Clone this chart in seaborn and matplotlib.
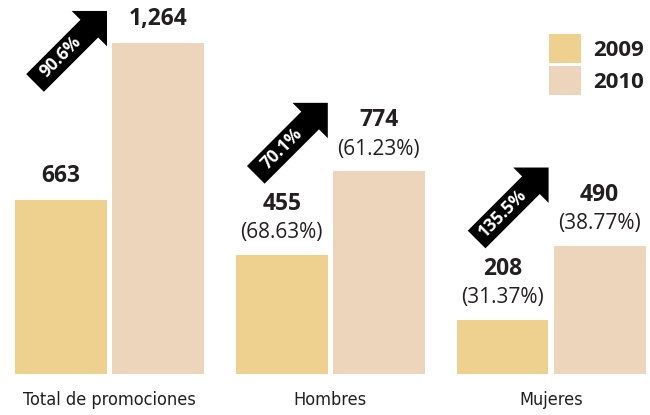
import matplotlib
matplotlib.use("Agg")
import matplotlib.pyplot as plt
import seaborn as sns
import pandas as pd
from matplotlib import font_manager

# datos
categorias = ["Total de promociones", "Hombres", "Mujeres"]
anios = ["2009", "2010"]
valores_2009 = [663, 455, 208]
valores_2010 = [1264, 774, 490]
pct_2009 = [None, "(68.63%)", "(31.37%)"]
pct_2010 = [None, "(61.23%)", "(38.77%)"]
crecimiento = ["90.6%", "70.1%", "135.5%"]

colores = ["#efd18f", "#ecd5bb"]
negro = "#231f20"

df = pd.DataFrame({
    "categoria": categorias * 2,
    "anio": [anios[0]] * 3 + [anios[1]] * 3,
    "valor": valores_2009 + valores_2010,
})

sns.set_theme(style="white")
instaladas = {f.name for f in font_manager.fontManager.ttflist}
fuente_num = "Open Sans" if "Open Sans" in instaladas else "DejaVu Sans"

# fuente estrecha para las categorias, si hay alguna
estrechas = [f for f in font_manager.fontManager.ttflist
             if f.style == "normal" and f.weight in (400, "normal", "regular")
             and ("Narrow" in f.name or "Condensed" in f.name
                  or str(f.stretch) in ("condensed", "semi-condensed", "extra-condensed"))]
if estrechas:
    fuente_cat = estrechas[0].name
    estiramiento = estrechas[0].stretch
    tam_cat = 13
else:
    fuente_cat = "Roboto" if "Roboto" in instaladas else "Liberation Sans"
    estiramiento = "normal"
    tam_cat = 12.5

plt.rcParams["font.family"] = [fuente_num, "DejaVu Sans"]
plt.rcParams["text.color"] = negro

fig = plt.figure(figsize=(6.5, 4.15), dpi=100)
ax = fig.add_axes([0, 41 / 415, 1, 374 / 415])

sns.barplot(data=df, x="categoria", y="valor", hue="anio", palette=colores,
            width=0.88, gap=0.055, saturation=1, edgecolor="none", ax=ax)

ax.set_xlim(-0.496, 2.448)
ax.set_ylim(0, 1428)
ax.set_xlabel("")
ax.set_ylabel("")
ax.set_yticks([])
for s in ax.spines.values():
    s.set_visible(False)
ax.tick_params(axis="x", length=0, pad=12)
for t in ax.get_xticklabels():
    t.set_fontfamily(fuente_cat)
    t.set_fontstretch(estiramiento)
    t.set_fontsize(tam_cat)
    t.set_color(negro)

# etiquetas sobre las barras
tops = {}
for j, (cont, pcts) in enumerate(zip(ax.containers, [pct_2009, pct_2010])):
    for i, bar in enumerate(cont):
        xc = bar.get_x() + bar.get_width() / 2
        h = bar.get_height()
        if pcts[i] is None:
            off = 24
        else:
            off = 51
            ax.annotate(pcts[i], xy=(xc, h), xytext=(0, 22), textcoords="offset pixels",
                        ha="center", va="center", fontsize=15, color=negro)
        ax.annotate(f"{int(h):,}", xy=(xc, h), xytext=(0, off), textcoords="offset pixels",
                    ha="center", va="center", fontsize=16.5, fontweight="bold", color=negro)
        tops[(j, i)] = ax.transData.transform((xc, h))[1] + off + 8

# flechas de crecimiento
for i, txt in enumerate(crecimiento):
    tip_x = ax.transData.transform((i, 0))[0] - 2.5
    tip_y = max(tops[(1, i)], tops[(0, i)] + 93)
    ax.annotate("", xy=(tip_x, tip_y), xycoords="figure pixels",
                xytext=(tip_x - 72, tip_y - 72), textcoords="figure pixels",
                arrowprops=dict(arrowstyle="simple,head_length=2.5,head_width=5.0,tail_width=2.5",
                                mutation_scale=7.2, fc="black", ec="none",
                                shrinkA=0, shrinkB=0))
    ax.annotate(txt, xy=(tip_x - 46, tip_y - 46), xycoords="figure pixels",
                rotation=45, rotation_mode="anchor", ha="center", va="center",
                color="white", fontsize=12.5, fontweight="bold")

sns.move_legend(ax, "upper left", bbox_to_anchor=(549 / 650, 1 - 34 / 415),
                bbox_transform=fig.transFigure, frameon=False, title=None,
                prop=dict(family=fuente_num, weight="bold", size=16),
                handlelength=1.44, handleheight=1.63, labelspacing=0.15,
                handletextpad=0.54, borderpad=0, borderaxespad=0)
for t in ax.get_legend().get_texts():
    t.set_color(negro)

fig.savefig("out.png", dpi=100)
